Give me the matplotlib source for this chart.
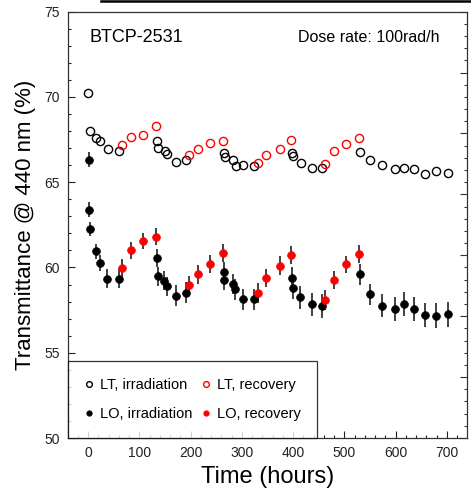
import matplotlib
matplotlib.use("Agg")
import matplotlib.pyplot as plt
from matplotlib.lines import Line2D
from matplotlib.ticker import MultipleLocator, NullFormatter

plt.rcParams['font.family'] = ['Liberation Sans', 'DejaVu Sans']

# LT (light transmittance) data
lt_irr_t = [0, 3, 16, 23, 39, 60, 134, 136, 150, 155, 171, 192, 265, 267, 282, 288, 303, 324,
            397, 399, 415, 436, 456, 531, 550, 574, 598, 617, 635, 658, 679, 701]
lt_irr_v = [70.24, 67.98, 67.59, 67.39, 66.92, 66.82, 67.41, 67.0, 66.86, 66.67, 66.16, 66.3,
            66.7, 66.47, 66.28, 65.96, 66.0, 65.98, 66.69, 66.51, 66.12, 65.85, 65.85,
            66.79, 66.32, 66.0, 65.77, 65.82, 65.75, 65.49, 65.65, 65.55]
lt_rec_t = [66, 83, 108, 133, 197, 214, 238, 264, 331, 348, 375, 396, 462, 479, 503, 528]
lt_rec_v = [67.16, 67.65, 67.76, 68.29, 66.57, 66.96, 67.29, 67.39, 66.14, 66.61, 66.96, 67.49,
            66.08, 66.86, 67.26, 67.59]

# LO (light output) data
lo_irr_t = [1, 2, 3, 16, 23, 38, 60, 134, 136, 149, 155, 171, 192, 265, 266, 282, 287, 302, 324,
            397, 400, 414, 436, 456, 531, 550, 574, 598, 617, 635, 658, 679, 701]
lo_irr_v = [66.32, 63.38, 62.24, 60.94, 60.28, 59.34, 59.35, 60.55, 59.49, 59.22, 58.9, 58.35,
            58.53, 59.76, 59.26, 59.02, 58.71, 58.14, 58.14, 59.41, 58.79, 58.24, 57.85, 57.73,
            59.59, 58.44, 57.77, 57.57, 57.85, 57.57, 57.22, 57.18, 57.26]
lo_irr_e = [0.45, 0.44, 0.42, 0.45, 0.47, 0.55, 0.55, 0.55, 0.55, 0.55, 0.57, 0.6, 0.6, 0.55,
            0.58, 0.6, 0.62, 0.62, 0.62, 0.6, 0.62, 0.65, 0.68, 0.7, 0.6, 0.62, 0.68, 0.7, 0.7,
            0.72, 0.72, 0.73, 0.73]
lo_rec_t = [67, 83, 108, 133, 197, 214, 238, 264, 331, 348, 375, 396, 462, 479, 503, 528]
lo_rec_v = [59.98, 61.02, 61.57, 61.81, 58.96, 59.59, 60.2, 60.85, 58.49, 59.38, 60.1, 60.73,
            58.1, 59.26, 60.18, 60.79]
lo_rec_e = [0.52, 0.5, 0.48, 0.5, 0.55, 0.55, 0.52, 0.55, 0.58, 0.55, 0.55, 0.55, 0.58, 0.55,
            0.5, 0.5]

xlabel = "Time (hours)"
ylabel = "Transmittance @ 440 nm (%)"

fig = plt.figure(figsize=(4.71, 4.92), dpi=100)
ax = fig.add_axes([68 / 471, 1 - 438 / 492, (467 - 68) / 471, (438 - 11.7) / 492])

ms = 5.9
ecol = '#333333'
h_lt_irr, = ax.plot(lt_irr_t, lt_irr_v, 'o', ms=ms, mfc='none', mec='black', mew=1.0, zorder=3)
h_lt_rec, = ax.plot(lt_rec_t, lt_rec_v, 'o', ms=ms, mfc='none', mec='#ff0000', mew=1.0, zorder=3)
ax.errorbar(lo_irr_t, lo_irr_v, yerr=lo_irr_e, fmt='none', ecolor=ecol, elinewidth=1.3, capsize=0, zorder=2)
ax.errorbar(lo_rec_t, lo_rec_v, yerr=lo_rec_e, fmt='none', ecolor=ecol, elinewidth=1.3, capsize=0, zorder=2)
h_lo_irr, = ax.plot(lo_irr_t, lo_irr_v, 'o', ms=5.6, mfc='black', mec='black', mew=0.5, zorder=4)
h_lo_rec, = ax.plot(lo_rec_t, lo_rec_v, 'o', ms=5.6, mfc='#ff0000', mec='#ff0000', mew=0.5, zorder=4)

ax.set_xlim(-39, 739)
ax.set_ylim(50, 75)
ax.xaxis.set_major_locator(MultipleLocator(100))
ax.xaxis.set_minor_locator(MultipleLocator(20))
ax.yaxis.set_major_locator(MultipleLocator(5))
ax.yaxis.set_minor_locator(MultipleLocator(1))
ax.tick_params(which='both', direction='in', top=False, right=False, labelsize=10, colors='#222222')
ax.tick_params(which='major', length=5, width=0.8, pad=6)
ax.tick_params(which='minor', length=2.5, width=0.8)
for s in ax.spines.values():
    s.set_linewidth(0.9)
    s.set_color('#333333')

ax2 = ax.twinx()
ax2.set_ylim(0, 7)
ax2.yaxis.set_major_locator(MultipleLocator(1))
ax2.yaxis.set_minor_locator(MultipleLocator(0.2))
ax2.yaxis.set_major_formatter(NullFormatter())
ax2.tick_params(which='both', direction='in', colors='#333333')
ax2.tick_params(which='major', length=5, width=0.8)
ax2.tick_params(which='minor', length=2.5, width=0.8)
for s in ax2.spines.values():
    s.set_visible(False)

ax.set_xlabel(xlabel, fontsize=17, labelpad=4)
ax.set_ylabel(ylabel, fontsize=16, labelpad=6)

ax.text(0.053, 0.94, "BTCP-2531", transform=ax.transAxes, fontsize=13, va='center', ha='left')
ax.text(0.93, 0.94, "Dose rate: 100rad/h", transform=ax.transAxes, fontsize=11.5, va='center', ha='right')

leg = ax.legend([h_lt_irr, h_lo_irr, h_lt_rec, h_lo_rec],
                ["LT, irradiation", "LO, irradiation", "LT, recovery", "LO, recovery"],
                ncol=2, loc='lower left', bbox_to_anchor=(0, 0), borderaxespad=0,
                fontsize=10.5, frameon=True, fancybox=False, edgecolor='black',
                handlelength=0.6, handletextpad=0.45, columnspacing=0.6,
                labelspacing=1.05, markerscale=0.7, borderpad=1.15)
leg.get_frame().set_linewidth(0.9)
leg.set_zorder(5)

fig.add_artist(Line2D([101 / 471, 1.0], [1 - 1.3 / 492, 1 - 1.3 / 492], color='black', lw=1.8))

fig.savefig("out.png", dpi=100)
